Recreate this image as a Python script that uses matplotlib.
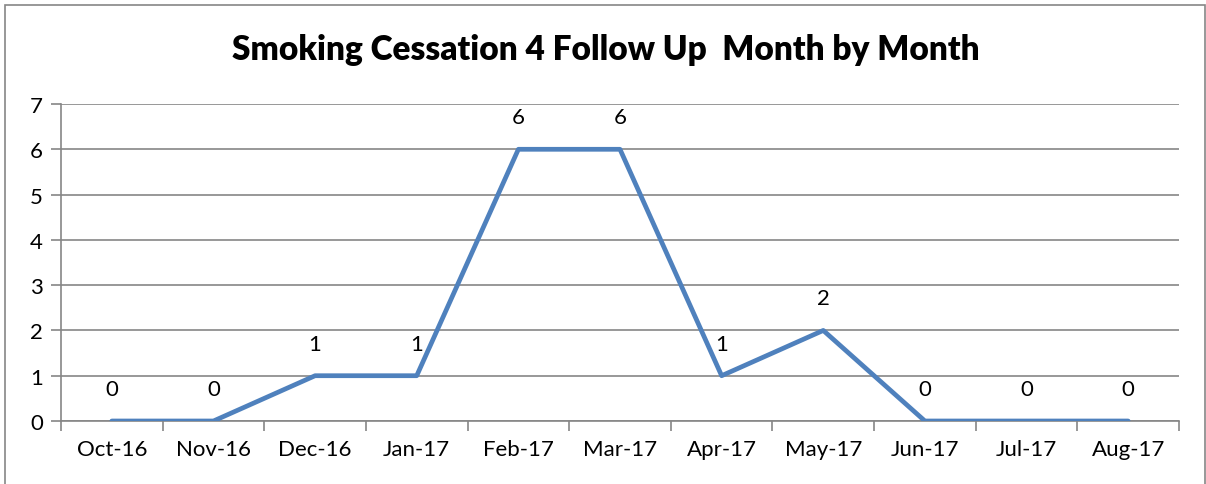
import matplotlib.pyplot as plt
from matplotlib.patches import Rectangle

plt.rcParams['font.family'] = ['Lato', 'DejaVu Sans']

months = ['Oct-16', 'Nov-16', 'Dec-16', 'Jan-17', 'Feb-17', 'Mar-17',
          'Apr-17', 'May-17', 'Jun-17', 'Jul-17', 'Aug-17']
counts = [0, 0, 1, 1, 6, 6, 1, 2, 0, 0, 0]
y_ticks = [0, 1, 2, 3, 4, 5, 6, 7]

W, H = 1206, 485
fig = plt.figure(figsize=(W / 100, H / 100), dpi=100)
ax = fig.add_axes([61 / W, 1 - 422 / H, (1179 - 61) / W, (422 - 105) / H])

x = range(len(months))
ax.plot(x, counts, color='#4F81BD', lw=3.4, solid_capstyle='round', zorder=3)

# data labels above each point
for i, v in enumerate(counts):
    ax.annotate(str(v), (i, v), xytext=(0, 23), textcoords='offset points',
                ha='center', va='center', fontsize=16, color='black')

ax.set_xlim(-0.5, len(months) - 0.5)
ax.set_ylim(0, 7)
ax.set_yticks(y_ticks)
ax.set_xticks(x)
ax.set_xticklabels(months, fontsize=16)
ax.set_xticks([i - 0.5 for i in range(len(months) + 1)], minor=True)
ax.tick_params(axis='x', which='major', length=0, pad=13)
ax.tick_params(axis='x', which='minor', length=7, width=1.2, color='#868686')
ax.tick_params(axis='y', length=7, width=1.2, color='#868686', labelsize=16, pad=6)

ax.grid(axis='y', color='#868686', lw=1.2)
ax.set_axisbelow(True)
for s in ['top', 'right']:
    ax.spines[s].set_visible(False)
ax.spines['left'].set_color('#868686')
ax.spines['bottom'].set_color('#868686')
ax.spines['left'].set_linewidth(1.2)
ax.spines['bottom'].set_linewidth(1.2)

fig.text(606 / W, 1 - 50 / H, 'Smoking Cessation 4 Follow Up  Month by Month',
         ha='center', va='center', fontsize=24, fontweight='heavy')

# outer chart border
fig.patches.append(Rectangle((5 / W, -0.1), 1200 / W, 1.1 - 6 / H,
                             transform=fig.transFigure, fill=False,
                             edgecolor='#868686', lw=1.2))

fig.savefig('out.png', dpi=100)
